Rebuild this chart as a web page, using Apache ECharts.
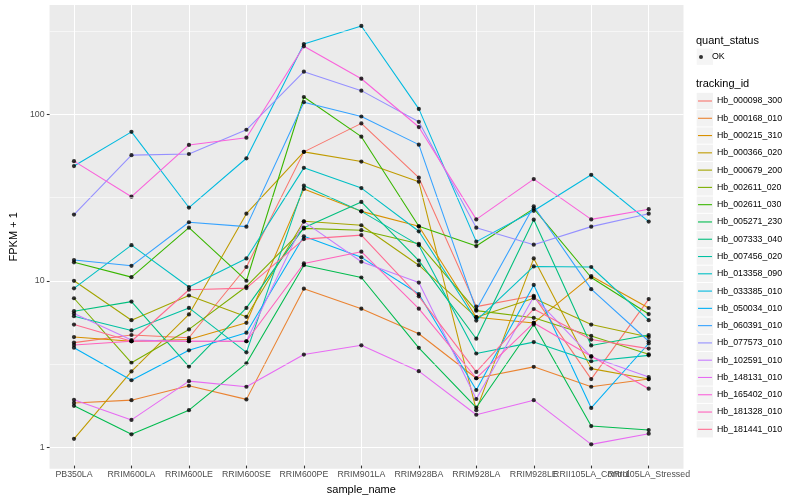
<!DOCTYPE html>
<html><head><meta charset="utf-8">
<script src="https://cdn.jsdelivr.net/npm/echarts@6/dist/echarts.min.js"></script>
<style>html,body{margin:0;padding:0;background:#fff}#c{width:800px;height:500px}</style>
</head><body><div id="c"></div>
<script>
const categories = ['PB350LA','RRIM600LA','RRIM600LE','RRIM600SE','RRIM600PE','RRIM901LA','RRIM928BA','RRIM928LA','RRIM928LE','RRII105LA_Control','RRII105LA_Stressed'];
const trackingIds = ['Hb_000098_300','Hb_000168_010','Hb_000215_310','Hb_000366_020','Hb_000679_200','Hb_002611_020','Hb_002611_030','Hb_005271_230','Hb_007333_040','Hb_007456_020','Hb_013358_090','Hb_033385_010','Hb_050034_010','Hb_060391_010','Hb_077573_010','Hb_102591_010','Hb_148131_010','Hb_165402_010','Hb_181328_010','Hb_181441_010'];
const hueColors = ['#F8766D','#EA8331','#D89000','#C09B00','#A3A500','#7CAE00','#39B600','#00BB4E','#00BF7D','#00C1A3','#00BFC4','#00BAE0','#00B0F6','#35A2FF','#9590FF','#C77CFF','#E76BF3','#FA62DB','#FF62BC','#FF6C91'];

// FPKM + 1 per sample (same order as categories)
const Hb_000098_300 = [4.12, 4.58, 4.41, 11.8, 58.6, 87.1, 40.9, 6.8, 7.9, 2.48, 7.55];
const Hb_000168_010 = [1.78, 1.85, 2.26, 1.87, 8.73, 6.61, 4.66, 2.51, 2.94, 2.23, 2.48];
const Hb_000215_310 = [4.45, 4.2, 4.3, 5.43, 35.0, 25.6, 20.8, 5.87, 5.42, 10.4, 6.67];
const Hb_000366_020 = [1.08, 2.76, 6.1, 24.8, 58.6, 51.2, 38.7, 1.61, 13.3, 2.87, 2.48];
const Hb_000679_200 = [9.74, 5.63, 7.94, 5.9, 22.3, 21.1, 12.1, 5.87, 7.65, 5.3, 4.45];
const Hb_002611_020 = [7.64, 3.11, 4.95, 9.0, 20.2, 19.7, 16.3, 6.43, 5.82, 4.52, 3.5];
const Hb_002611_030 = [12.6, 10.25, 20.4, 9.75, 125.8, 72.4, 20.8, 15.8, 26.6, 10.2, 6.13];
const Hb_005271_230 = [1.71, 1.15, 1.61, 3.09, 12.1, 10.2, 3.83, 1.67, 5.3, 1.29, 1.22];
const Hb_007333_040 = [6.38, 7.29, 2.95, 6.68, 20.4, 29.2, 12.9, 4.35, 22.8, 3.96, 4.58];
const Hb_007456_020 = [5.95, 4.88, 6.68, 3.6, 36.6, 25.6, 16.0, 3.54, 4.15, 3.18, 3.45];
const Hb_013358_090 = [8.77, 16.0, 8.93, 13.3, 46.9, 35.4, 19.4, 5.6, 11.9, 11.8, 5.63];
const Hb_033385_010 = [48.1, 77.4, 27.0, 53.6, 263, 338, 106.6, 16.8, 25.8, 42.6, 22.2];
const Hb_050034_010 = [3.84, 2.44, 3.70, 4.73, 18.1, 13.5, 8.1, 2.13, 9.2, 1.66, 4.07];
const Hb_060391_010 = [13.0, 12.0, 22.0, 20.7, 117, 95.9, 64.8, 6.5, 27.5, 8.67, 4.2];
const Hb_077573_010 = [24.5, 56.0, 56.9, 79.7, 178.8, 137.4, 89.0, 20.4, 16.1, 20.7, 24.8];
const Hb_102591_010 = [6.17, 4.27, 4.2, 4.2, 22.2, 12.7, 9.5, 1.88, 7.8, 3.38, 2.55];
const Hb_148131_010 = [1.86, 1.405, 2.41, 2.23, 3.49, 3.97, 2.77, 1.51, 1.85, 1.0, 1.16];
const Hb_165402_010 = [51.5, 31.4, 64.5, 71.4, 254.7, 162.2, 82.8, 22.9, 40.1, 22.9, 26.4];
const Hb_181328_010 = [3.99, 4.2, 4.2, 4.2, 12.4, 14.6, 6.61, 2.51, 5.42, 3.41, 2.17];
const Hb_181441_010 = [5.30, 4.2, 8.6, 8.8, 17.4, 18.4, 7.85, 2.74, 6.58, 4.3, 3.79];

const seriesValues = [Hb_000098_300, Hb_000168_010, Hb_000215_310, Hb_000366_020, Hb_000679_200, Hb_002611_020, Hb_002611_030, Hb_005271_230, Hb_007333_040, Hb_007456_020, Hb_013358_090, Hb_033385_010, Hb_050034_010, Hb_060391_010, Hb_077573_010, Hb_102591_010, Hb_148131_010, Hb_165402_010, Hb_181328_010, Hb_181441_010];

const yTickValues = [1, 10, 100];
const yMinorBreaks = [3.1623, 31.623, 316.23];
const yMin = 0.744, yMax = 452.5;

const FONT = '"Liberation Sans", Arial, Helvetica, sans-serif';
const chart = echarts.init(document.getElementById('c'), null, {renderer: 'canvas'});

const lineSeries = trackingIds.map((id, k) => ({
  name: id, type: 'line', xAxisIndex: 1, yAxisIndex: 1,
  data: seriesValues[k], showSymbol: false, symbol: 'none', clip: false,
  color: hueColors[k], lineStyle: {color: hueColors[k], width: 1.07},
  silent: true, emphasis: {disabled: true}, z: 2
}));
const pointData = [];
seriesValues.forEach(arr => arr.forEach((v, i) => pointData.push([categories[i], v])));

const legendCommon = {orient: 'vertical', padding: 0, selectedMode: false, symbolKeepAspect: true,
  textStyle: {fontFamily: FONT, fontSize: 8.8, color: '#000', lineHeight: 12}};

const option = {
  animation: false,
  backgroundColor: '#FFFFFF',
  textStyle: {fontFamily: FONT},
  title: [
    {text: 'quant_status', left: 696, top: 34.2, padding: 0, textStyle: {fontFamily: FONT, fontSize: 11, fontWeight: 'normal', color: '#000', lineHeight: 13}},
    {text: 'tracking_id', left: 696, top: 77.8, padding: 0, textStyle: {fontFamily: FONT, fontSize: 11, fontWeight: 'normal', color: '#000', lineHeight: 13}}
  ],
  legend: [
    Object.assign({}, legendCommon, {data: ['OK'], left: 696.7, top: 48.6, icon: 'rect', itemWidth: 16.3, itemHeight: 16.3, itemGap: 1, formatter: () => '', itemStyle: {color: '#F2F2F2', borderWidth: 0}}),
    Object.assign({}, legendCommon, {data: ['OK'], left: 699, top: 51, icon: 'circle', itemWidth: 12, itemHeight: 4, itemStyle: {color: '#000', borderWidth: 0}}),
    Object.assign({}, legendCommon, {data: trackingIds, left: 696.7, top: 92.85, icon: 'rect', itemWidth: 16.3, itemHeight: 16.3, itemGap: 0.98, formatter: () => '', itemStyle: {color: '#F2F2F2', borderWidth: 0}}),
    Object.assign({}, legendCommon, {data: trackingIds, left: 698, top: 92.85, icon: 'path://M0,0H14V1.1H0Z', itemWidth: 14, itemHeight: 16.3, itemGap: 0.98, itemStyle: {borderWidth: 0},
      textStyle: {fontFamily: FONT, fontSize: 8.8, color: '#000', lineHeight: 16.3}})
  ],
  grid: [
    {left: 40, top: 5, width: 643.5, height: 463.7, show: true, backgroundColor: '#EBEBEB', borderWidth: 0},
    {left: 74, top: 5, width: 574.7, height: 463.7, show: false}
  ],
  xAxis: [
    {gridIndex: 0, type: 'value', min: 0, max: 1, show: false},
    {gridIndex: 1, type: 'category', data: categories, boundaryGap: false,
     axisLine: {show: false},
     axisTick: {show: true, interval: 0, length: 2.75, lineStyle: {color: '#333333', width: 1.07}},
     axisLabel: {interval: 0, color: '#4D4D4D', fontSize: 8.8, fontFamily: FONT, margin: 4.5, hideOverlap: false},
     splitLine: {show: true, interval: 0, lineStyle: {color: '#FFFFFF', width: 1.07}},
     name: 'sample_name', nameLocation: 'middle', nameGap: 8,
     nameTextStyle: {color: '#000', fontSize: 11, fontFamily: FONT}}
  ],
  yAxis: [
    {gridIndex: 0, type: 'log', logBase: 10, min: yMin, max: yMax,
     axisLine: {show: false},
     axisTick: {show: true, customValues: yTickValues, length: 2.75, lineStyle: {color: '#333333', width: 1.07}},
     axisLabel: {customValues: yTickValues, color: '#4D4D4D', fontSize: 8.8, fontFamily: FONT, margin: 5},
     splitLine: {show: true, lineStyle: {color: '#FFFFFF', width: 1.07}},
     name: 'FPKM + 1', nameLocation: 'middle', nameGap: 22, nameRotate: 90,
     nameTextStyle: {color: '#000', fontSize: 11, fontFamily: FONT}},
    {gridIndex: 1, type: 'log', logBase: 10, min: yMin, max: yMax, show: false}
  ],
  series: [
    {type: 'line', name: 'minor', xAxisIndex: 0, yAxisIndex: 0, data: [], silent: true, z: 1,
     markLine: {silent: true, symbol: ['none', 'none'], label: {show: false}, animation: false,
       lineStyle: {color: '#FFFFFF', width: 0.55, type: 'solid'}, emphasis: {disabled: true},
       data: yMinorBreaks.map(v => ({yAxis: v}))}}
  ].concat(lineSeries).concat([
    {type: 'scatter', name: 'OK', xAxisIndex: 1, yAxisIndex: 1, data: pointData, symbol: 'circle', symbolSize: 4.2,
     color: '#000', itemStyle: {color: '#000'}, clip: false, silent: true, z: 3}
  ])
};
chart.setOption(option);
</script></body></html>
